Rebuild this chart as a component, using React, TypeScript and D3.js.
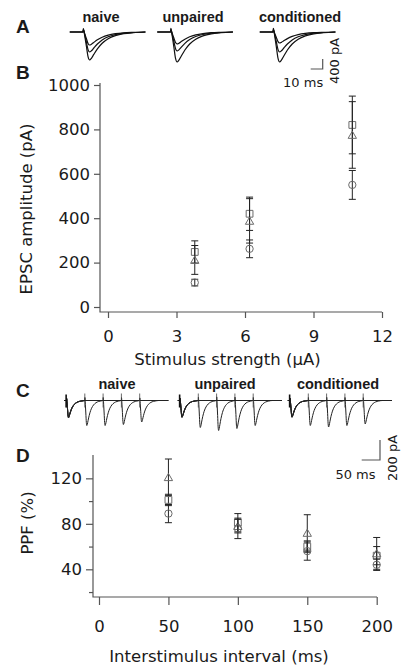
import * as d3 from 'd3';
import { useEffect, useRef } from 'react';

// ---- A: example EPSCs, three stimulus strengths per group (pA)
const groups = ['naive', 'unpaired', 'conditioned'];
const ampA = [
  [520, 800, 1120],
  [480, 760, 1200],
  [440, 800, 1200],
];

// EPSC time course: [ms after stimulus, fraction of peak]
const epscShape: [number, number][] = [
  [0, 0], [0.3, -0.12], [0.8, -0.04], [1.5, 0.15], [2.8, 0.5], [4.2, 0.88], [5.5, 1],
  [7, 0.94], [9, 0.8], [12, 0.6], [16, 0.4], [21, 0.24], [27, 0.13], [34, 0.06],
  [42, 0.025], [52, 0],
];

// ---- B: EPSC amplitude vs stimulus strength
const stimStrength = [3.8, 6.2, 10.7];
const bCircle = [110, 262, 550];
const bCircleErr = [15, 40, 65];
const bTriangle = [212, 388, 775];
const bTriangleErr = [65, 100, 150];
const bSquare = [248, 420, 820];
const bSquareErr = [50, 75, 130];
const bTicksX = [0, 3, 6, 9, 12];
const bTicksY = [0, 200, 400, 600, 800, 1000];

// ---- C: paired pulses at 4 intervals, amplitudes of 1st and 2nd EPSC (pA)
const isiC = [50, 100, 150, 200];
const firstAmpC = [
  [165, 172, 160, 175],
  [160, 170, 165, 168],
  [158, 165, 170, 162],
];
const secondAmpC = [
  [250, 250, 240, 215],
  [270, 300, 280, 250],
  [250, 265, 250, 235],
];

// ---- D: paired pulse facilitation
const isiD = [50, 100, 150, 200];
const dCircle = [89, 76, 56, 44];
const dCircleErr = [8, 9, 8, 5];
const dTriangle = [121, 78, 72, 54];
const dTriangleErr = [16, 6, 16, 14];
const dSquare = [101, 81, 60, 52];
const dSquareErr = [5, 8, 5, 8];
const dTicksX = [0, 50, 100, 150, 200];
const dTicksY = [40, 80, 120];
const dMinorY = [20, 60, 100];

const AX = '#555';
const TXT = '#1a1a1a';
const SYM = '#6a6a6a';
const FONT = 'DejaVu Sans';
const BOLD = 'Liberation Sans';

function App() {
  const svgRef = useRef(null);

  useEffect(() => {
    const svg = d3.select(svgRef.current);
    svg.selectAll('*').remove();

    // panel letters
    const letters = [['A', 33], ['B', 79], ['C', 397], ['D', 462]];
    svg.selectAll('text.letter').data(letters).join('text')
      .attr('class', 'letter')
      .attr('x', 16).attr('y', d => d[1])
      .attr('font-family', BOLD).attr('font-weight', 'bold').attr('font-size', 19)
      .attr('fill', TXT).text(d => d[0]);

    // ------------------ A: traces ------------------
    const stimA = [83, 170.5, 273];
    const labelAx = [101, 193, 300];
    const yA = d3.scaleLinear().domain([0, 400]).range([32, 42]);
    groups.forEach((g, i) => {
      const xA = d3.scaleLinear().domain([0, 10]).range([stimA[i], stimA[i] + 12]);
      const line = d3.line<[number, number]>()
        .x(d => xA(d[0])).y(d => yA(d[1])).curve(d3.curveMonotoneX);
      svg.append('text').attr('x', labelAx[i]).attr('y', 21.5)
        .attr('text-anchor', 'middle').attr('font-family', BOLD).attr('font-weight', 'bold')
        .attr('font-size', 14.5).attr('fill', TXT).text(g);
      ampA[i].forEach(a => {
        const pts: [number, number][] = [[-11, 0], ...epscShape.map(([t, f]) => [t, f * a] as [number, number])];
        svg.append('path').attr('d', line(pts)).attr('fill', 'none')
          .attr('stroke', '#111').attr('stroke-width', 1.2);
      });
      if (i === 2) {
        // scale bar 10 ms / 400 pA
        const bx = 322.7, by = 69;
        const w = xA(10) - xA(0), h = yA(400) - yA(0);
        svg.append('path').attr('d', `M${bx - w},${by}H${bx}V${by - h}`)
          .attr('fill', 'none').attr('stroke', AX).attr('stroke-width', 1.2);
        svg.append('text').attr('x', bx + 0.5).attr('y', 87).attr('text-anchor', 'end')
          .attr('font-family', FONT).attr('font-size', 13).attr('fill', TXT).text('10 ms');
        svg.append('text').attr('transform', `translate(339,61) rotate(-90)`)
          .attr('text-anchor', 'middle').attr('font-family', FONT).attr('font-size', 13)
          .attr('fill', TXT).text('400 pA');
      }
    });

    // ------------------ scatter helper ------------------
    function drawSeries(g, x, y, xs, vals, errs, shape) {
      const cap = 3.5;
      xs.forEach((xv, k) => {
        const px = x(xv);
        const lo = y(vals[k] - errs[k]), hi = y(vals[k] + errs[k]);
        g.append('path')
          .attr('d', `M${px},${lo}V${hi}M${px - cap},${lo}H${px + cap}M${px - cap},${hi}H${px + cap}`)
          .attr('fill', 'none').attr('stroke', '#222').attr('stroke-width', 1);
        const py = y(vals[k]);
        const sym = d3.symbol()
          .type(shape === 'circle' ? d3.symbolCircle : shape === 'square' ? d3.symbolSquare : d3.symbolTriangle)
          .size(shape === 'triangle' ? 30 : shape === 'square' ? 46 : 42);
        g.append('path').attr('d', sym())
          .attr('transform', `translate(${px},${shape === 'triangle' ? py + 1 : py})`)
          .attr('fill', 'none').attr('stroke', SYM).attr('stroke-width', 1);
      });
    }

    function styleAxis(g) {
      g.select('.domain').remove();
      g.selectAll('line').attr('stroke', AX).attr('stroke-width', 1.2);
      g.selectAll('text').attr('font-family', FONT).attr('font-size', 16.5).attr('fill', TXT);
    }

    // ------------------ B ------------------
    const xB = d3.scaleLinear().domain([0, 12]).range([108, 382]);
    const yB = d3.scaleLinear().domain([0, 1000]).range([307, 85]);
    const gB = svg.append('g');
    gB.append('path').attr('d', `M100,83V312H382`).attr('fill', 'none')
      .attr('stroke', AX).attr('stroke-width', 1.2);
    gB.append('g').attr('transform', 'translate(100,0)')
      .call(d3.axisLeft(yB).tickValues(bTicksY).tickSize(6).tickPadding(4).tickFormat(d3.format('d')))
      .call(styleAxis);
    gB.append('g').attr('transform', 'translate(0,312)')
      .call(d3.axisBottom(xB).tickValues(bTicksX).tickSize(6).tickPadding(12))
      .call(styleAxis);
    drawSeries(gB, xB, yB, stimStrength, bSquare, bSquareErr, 'square');
    drawSeries(gB, xB, yB, stimStrength, bTriangle, bTriangleErr, 'triangle');
    drawSeries(gB, xB, yB, stimStrength, bCircle, bCircleErr, 'circle');
    gB.append('text').attr('x', 227.5).attr('y', 365).attr('text-anchor', 'middle')
      .attr('font-family', FONT).attr('font-size', 16.5).attr('fill', TXT)
      .text('Stimulus strength (\u03bcA)');
    gB.append('text').attr('transform', 'translate(32,209) rotate(-90)').attr('text-anchor', 'middle')
      .attr('font-family', FONT).attr('font-size', 16.5).attr('fill', TXT)
      .text('EPSC amplitude (pA)');

    // ------------------ C: paired-pulse traces ------------------
    const stimC = [66.5, 180, 290];
    const labelCx = [117, 225, 338];
    const yC = d3.scaleLinear().domain([0, 200]).range([400.5, 420.5]);
    groups.forEach((g, i) => {
      const xC = d3.scaleLinear().domain([0, 50]).range([stimC[i], stimC[i] + 18.3]);
      const line = d3.line<[number, number]>()
        .x(d => xC(d[0])).y(d => yC(d[1])).curve(d3.curveMonotoneX);
      svg.append('text').attr('x', labelCx[i]).attr('y', 389)
        .attr('text-anchor', 'middle').attr('font-family', BOLD).attr('font-weight', 'bold')
        .attr('font-size', 14.5).attr('fill', TXT).text(g);
      isiC.forEach((isi, k) => {
        const a1 = firstAmpC[i][k], a2 = secondAmpC[i][k];
        const pts: [number, number][] = [[-6, 0]];
        epscShape.filter(([t]) => t < isi - 1).forEach(([t, f]) => pts.push([t, f * a1]));
        epscShape.forEach(([t, f]) => pts.push([t + isi, f * a2]));
        pts.push([278, 0]);
        svg.append('path').attr('d', line(pts)).attr('fill', 'none')
          .attr('stroke', '#222').attr('stroke-width', 1);
        svg.append('line').attr('x1', xC(isi)).attr('x2', xC(isi))
          .attr('y1', yC(-70)).attr('y2', yC(70))
          .attr('stroke', '#444').attr('stroke-width', 0.8);
      });
      svg.append('line').attr('x1', xC(-1)).attr('x2', xC(-1))
        .attr('y1', yC(-60)).attr('y2', yC(70))
        .attr('stroke', '#111').attr('stroke-width', 1.6);
      if (i === 2) {
        // scale bar 50 ms / 200 pA
        const bx = 380, by = 460;
        const w = xC(50) - xC(0), h = yC(200) - yC(0);
        svg.append('path').attr('d', `M${bx - w},${by}H${bx}V${by - h}`)
          .attr('fill', 'none').attr('stroke', AX).attr('stroke-width', 1.2);
        svg.append('text').attr('x', bx - 4.5).attr('y', 479).attr('text-anchor', 'end')
          .attr('font-family', FONT).attr('font-size', 13).attr('fill', TXT).text('50 ms');
        svg.append('text').attr('transform', `translate(397,458) rotate(-90)`)
          .attr('text-anchor', 'middle').attr('font-family', FONT).attr('font-size', 13)
          .attr('fill', TXT).text('200 pA');
      }
    });

    // ------------------ D ------------------
    const xD = d3.scaleLinear().domain([0, 200]).range([99, 376.7]);
    const yD = d3.scaleLinear().domain([16, 140]).range([596.6, 455.6]);
    const gD = svg.append('g');
    gD.append('path').attr('d', `M93,455V597H377`).attr('fill', 'none')
      .attr('stroke', AX).attr('stroke-width', 1.2);
    gD.append('g').attr('transform', 'translate(93,0)')
      .call(d3.axisLeft(yD).tickValues(dTicksY).tickSize(7).tickPadding(4))
      .call(styleAxis);
    gD.append('g').attr('transform', 'translate(93,0)')
      .call(d3.axisLeft(yD).tickValues(dMinorY).tickSize(4).tickFormat(() => ''))
      .call(styleAxis);
    gD.append('g').attr('transform', 'translate(0,597)')
      .call(d3.axisBottom(xD).tickValues(dTicksX).tickSize(8).tickPadding(15))
      .call(styleAxis);
    drawSeries(gD, xD, yD, isiD, dSquare, dSquareErr, 'square');
    drawSeries(gD, xD, yD, isiD, dTriangle, dTriangleErr, 'triangle');
    drawSeries(gD, xD, yD, isiD, dCircle, dCircleErr, 'circle');
    gD.append('text').attr('x', 219).attr('y', 662).attr('text-anchor', 'middle')
      .attr('font-family', FONT).attr('font-size', 16.5).attr('fill', TXT)
      .text('Interstimulus interval (ms)');
    gD.append('text').attr('transform', 'translate(33,523) rotate(-90)').attr('text-anchor', 'middle')
      .attr('font-family', FONT).attr('font-size', 16.5).attr('fill', TXT)
      .text('PPF (%)');
  });

  return (
    <svg ref={svgRef} width={403} height={665}
      style={{ position: 'absolute', left: 0, top: 0, background: '#fff' }} />
  );
}

export default App;
